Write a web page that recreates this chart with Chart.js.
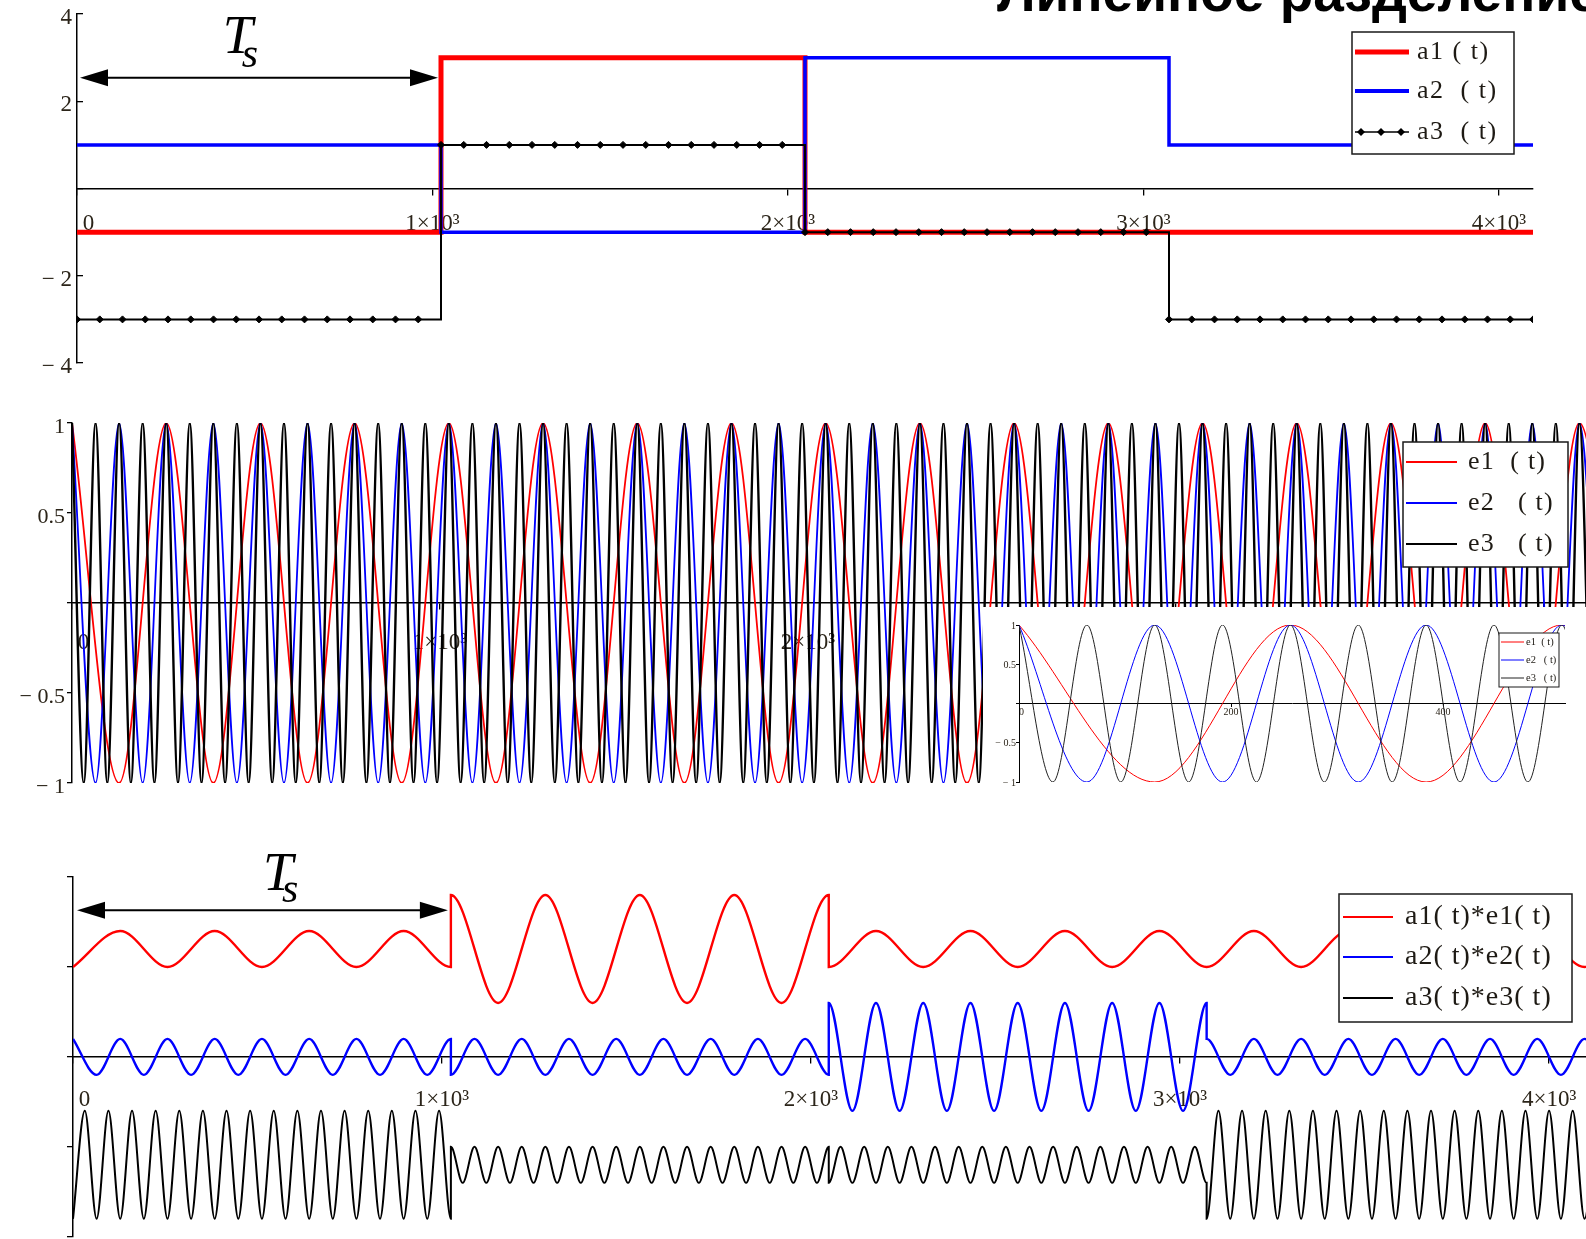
<!DOCTYPE html>
<html>
<head>
<meta charset="utf-8">
<script src="https://cdn.jsdelivr.net/npm/chart.js@4.4.1/dist/chart.umd.min.js"></script>
<style>
  html, body { margin: 0; padding: 0; background: #fff; }
  body { width: 1586px; height: 1239px; overflow: hidden; position: relative; }
  canvas { position: absolute; }
  #title { position: absolute; left: 997px; top: -35px; font: bold 55px 'Liberation Sans', Arial, sans-serif; line-height: 1; white-space: nowrap; color: #000; }
</style>
</head>
<body>
<div id="title">Линейное разделение</div>
<canvas id="levels" width="1586" height="411" style="left:0;top:-11px"></canvas>
<canvas id="carriers" width="1620" height="420" style="left:0;top:400px"></canvas>
<canvas id="zoomed" width="603" height="183" style="left:983px;top:607px"></canvas>
<canvas id="products" width="1620" height="420" style="left:0;top:830px"></canvas>
<script>
// symbol period boundaries (Ts = 1024)
const segStart = [0, 1024, 2048, 3072];
const tEnd = 4096;

// symbol amplitude of each channel in each period
const a1Levels = [-1, 3, -1, -1];
const a2Levels = [1, -1, 3, 1];
const a3Levels = [-3, 1, -1, -3];
const a3SampleStep = 64; // spacing of the diamond markers

// carrier peaks / troughs, one value each half period (256, 128, 64 periods)
const halfPeriods = [128, 64, 32];
const e1Extrema = [
  1, -1, 1, -1, 1, -1, 1, -1, 1, -1, 1, -1, 1, -1, 1, -1,
  1, -1, 1, -1, 1, -1, 1, -1, 1, -1, 1, -1, 1, -1, 1, -1,
  1, -1,
];
const e2Extrema = [
  1, -1, 1, -1, 1, -1, 1, -1, 1, -1, 1, -1, 1, -1, 1, -1,
  1, -1, 1, -1, 1, -1, 1, -1, 1, -1, 1, -1, 1, -1, 1, -1,
  1, -1, 1, -1, 1, -1, 1, -1, 1, -1, 1, -1, 1, -1, 1, -1,
  1, -1, 1, -1, 1, -1, 1, -1, 1, -1, 1, -1, 1, -1, 1, -1,
  1, -1,
];
const e3Extrema = [
  1, -1, 1, -1, 1, -1, 1, -1, 1, -1, 1, -1, 1, -1, 1, -1,
  1, -1, 1, -1, 1, -1, 1, -1, 1, -1, 1, -1, 1, -1, 1, -1,
  1, -1, 1, -1, 1, -1, 1, -1, 1, -1, 1, -1, 1, -1, 1, -1,
  1, -1, 1, -1, 1, -1, 1, -1, 1, -1, 1, -1, 1, -1, 1, -1,
  1, -1, 1, -1, 1, -1, 1, -1, 1, -1, 1, -1, 1, -1, 1, -1,
  1, -1, 1, -1, 1, -1, 1, -1, 1, -1, 1, -1, 1, -1, 1, -1,
  1, -1, 1, -1, 1, -1, 1, -1, 1, -1, 1, -1, 1, -1, 1, -1,
  1, -1, 1, -1, 1, -1, 1, -1, 1, -1, 1, -1, 1, -1, 1, -1,
  1, -1,
];

// vertical shifts of the three products on the bottom plot
const productOffsets = [6, 0, -6];

// legend names
const levelNames = ['a1 ( t)', 'a2  ( t)', 'a3  ( t)'];
const carrierNames = ['e1  ( t)', 'e2   ( t)', 'e3   ( t)'];
const productNames = ['a1( t)*e1( t)', 'a2( t)*e2( t)', 'a3( t)*e3( t)'];

// ticks (the zero label sits just right of the origin, as in Mathcad)
const timeTicks = [0, 1000, 2000, 3000, 4000];
const timeLabels = ['    0', '1×10³', '2×10³', '3×10³', '4×10³'];
const levelTicks = [4, 2, 0, -2, -4];
const levelLabels = ['4', '2', '', '− 2', '− 4'];
const unitTicks = [1, 0.5, 0, -0.5, -1];
const unitLabels = ['1', '0.5', '', '− 0.5', '− 1'];
const zoomTicks = [0, 200, 400];
const zoomLabels = ['  0', '200', '400'];
const productTicks = [10, 5, 0, -5, -10];
const productLabels = ['', '', '', '', ''];

const red = '#ff0000';
const blue = '#0000ff';
const black = '#000000';
const serif = 'Liberation Serif';
const tickColor = '#2b2419';

function levelAt(levels, t) {
  let k = 0;
  segStart.forEach((s, i) => { if (t >= s) k = i; });
  return levels[k];
}

function stepSeries(levels) {
  const pts = segStart.map((t, i) => ({ x: t, y: levels[i] }));
  pts.push({ x: tEnd, y: levels[levels.length - 1] });
  return pts;
}

function sampledSeries(levels, step) {
  const pts = [];
  for (let t = 0; t <= tEnd; t += step) pts.push({ x: t, y: levelAt(levels, t) });
  return pts;
}

function carrierSeries(extrema, half) {
  return extrema.map((v, i) => ({ x: i * half, y: v }));
}

function productSeries(extrema, half, levels, offset) {
  const pts = [];
  extrema.forEach((v, i) => {
    const t = i * half;
    const k = segStart.indexOf(t);
    if (k > 0) pts.push({ x: t, y: levels[k - 1] * v + offset });
    pts.push({ x: t, y: levelAt(levels, t) * v + offset });
  });
  return pts;
}

function axisX(min, max, ticks, labels, size, pad) {
  return {
    type: 'linear', min, max, position: { y: 0 },
    afterFit: (s) => { s.height = 0; },
    afterBuildTicks: (s) => { s.ticks = ticks.map((v) => ({ value: v })); },
    border: { display: true, color: '#000', width: size > 12 ? 1.5 : 1 },
    grid: { drawOnChartArea: false, drawTicks: true, color: '#000', lineWidth: size > 12 ? 1.3 : 1, tickLength: size > 12 ? 6 : 3 },
    ticks: {
      autoSkip: false, maxRotation: 0, minRotation: 0, padding: pad, color: tickColor,
      font: { family: serif, size }, callback: (v) => labels[ticks.indexOf(v)],
    },
  };
}

// left axis; its box spans from the canvas edge to the plot edge so labels are not clipped
function axisY(min, max, ticks, labels, size, shift, edge, tick, pad) {
  return {
    type: 'linear', min, max, position: 'left',
    afterFit: (s) => { s.width = edge; },
    afterBuildTicks: (s) => { s.ticks = ticks.map((v) => ({ value: v })); },
    border: { display: true, color: '#000', width: size > 12 ? 1.5 : 1 },
    grid: { drawOnChartArea: false, drawTicks: true, color: '#000', lineWidth: size > 12 ? 1.3 : 1, tickLength: tick },
    ticks: {
      autoSkip: false, padding: pad, labelOffset: shift, color: tickColor,
      font: { family: serif, size }, callback: (v) => labels[ticks.indexOf(v)],
    },
  };
}

// Mathcad style boxed legend
const boxLegend = {
  id: 'boxLegend',
  afterDraw(chart, args, o) {
    const { ctx } = chart;
    const [bx, by, bw, bh] = o.box;
    ctx.save();
    ctx.fillStyle = '#fff';
    ctx.fillRect(bx, by, bw, bh);
    ctx.strokeStyle = '#1a1a1a';
    ctx.lineWidth = o.border;
    ctx.strokeRect(bx, by, bw, bh);
    ctx.font = o.font;
    ctx.textBaseline = 'middle';
    if ('letterSpacing' in ctx) ctx.letterSpacing = o.spacing || '0px';
    chart.data.datasets.forEach((ds, i) => {
      const yy = o.rows[i];
      ctx.strokeStyle = ds.borderColor;
      ctx.lineWidth = o.widths[i];
      ctx.beginPath();
      ctx.moveTo(o.line[0], yy);
      ctx.lineTo(o.line[1], yy);
      ctx.stroke();
      if (ds.pointRadius > 0 && o.marks) {
        ctx.fillStyle = ds.borderColor;
        o.marks.forEach((mx) => {
          ctx.beginPath();
          ctx.moveTo(mx, yy - 4);
          ctx.lineTo(mx + 4, yy);
          ctx.lineTo(mx, yy + 4);
          ctx.lineTo(mx - 4, yy);
          ctx.closePath();
          ctx.fill();
        });
      }
      ctx.fillStyle = '#1e1a14';
      ctx.fillText(ds.label, o.textX, yy);
    });
    ctx.restore();
  },
};

// double arrow marking one symbol period with the Ts label
const tsArrow = {
  id: 'tsArrow',
  afterDatasetsDraw(chart, args, o) {
    if (!o || o.level === undefined) return;
    const { ctx } = chart;
    const sx = chart.scales.x;
    const sy = chart.scales.y;
    const x0 = sx.getPixelForValue(o.from) + o.inset[0];
    const x1 = sx.getPixelForValue(o.to) - o.inset[1];
    const yy = sy.getPixelForValue(o.level);
    ctx.save();
    ctx.fillStyle = '#000';
    ctx.strokeStyle = '#000';
    ctx.lineWidth = 2;
    ctx.beginPath();
    ctx.moveTo(x0 + 20, yy);
    ctx.lineTo(x1 - 20, yy);
    ctx.stroke();
    [[x0, 1], [x1, -1]].forEach(([tip, dir]) => {
      ctx.beginPath();
      ctx.moveTo(tip, yy);
      ctx.lineTo(tip + dir * 28, yy - 8.5);
      ctx.lineTo(tip + dir * 28, yy + 8.5);
      ctx.closePath();
      ctx.fill();
    });
    const tx = sx.getPixelForValue(o.labelAt);
    ctx.textBaseline = 'alphabetic';
    ctx.font = 'italic 54px ' + serif;
    ctx.fillText('T', tx, yy + o.capDy);
    ctx.font = 'italic 42px ' + serif;
    ctx.fillText('s', tx + 19, yy + o.subDy);
    ctx.restore();
  },
};

// white backdrop for the zoomed inset
const whiteBack = {
  id: 'whiteBack',
  beforeDraw(chart) {
    const { ctx } = chart;
    ctx.save();
    ctx.fillStyle = '#fff';
    ctx.fillRect(0, 0, chart.width, chart.height);
    ctx.restore();
  },
};

const common = {
  responsive: false,
  animation: false,
  events: [],
};

// ---- top: symbol amplitudes (canvas starts 11px above the page so the 4 label fits) ----
new Chart(document.getElementById('levels'), {
  type: 'line',
  data: {
    datasets: [
      { label: levelNames[0], data: stepSeries(a1Levels), borderColor: red, borderWidth: 5, stepped: 'before', pointRadius: 0, order: 3 },
      { label: levelNames[1], data: stepSeries(a2Levels), borderColor: blue, borderWidth: 3.5, stepped: 'before', pointRadius: 0, order: 2 },
      {
        label: levelNames[2], data: sampledSeries(a3Levels, a3SampleStep), borderColor: black, backgroundColor: black,
        borderWidth: 2, stepped: 'before', pointRadius: 3.5, pointStyle: 'rectRot', pointBorderWidth: 1,
        pointBackgroundColor: black, pointBorderColor: black, order: 1,
      },
    ],
  },
  options: {
    ...common,
    layout: { padding: { left: 0, top: 25, right: 53, bottom: 37 } },
    scales: {
      x: axisX(0, tEnd, timeTicks, timeLabels, 23, 16),
      y: axisY(-4, 4, levelTicks, levelLabels, 23, 4, 77, -6, 11),
    },
    plugins: {
      legend: { display: false },
      tooltip: { enabled: false },
      boxLegend: {
        box: [1352, 43, 162, 122], rows: [63, 102, 143], line: [1355, 1409], marks: [1361, 1381, 1401],
        textX: 1417, font: '26px ' + serif, spacing: '1.5px', widths: [5, 4, 1.6], border: 1.5,
      },
      tsArrow: { from: segStart[0], to: segStart[1], level: 2.54, inset: [3, 3], labelAt: 410, capDy: -25, subDy: -11 },
    },
  },
  plugins: [boxLegend, tsArrow],
});

// ---- middle: carriers (plot runs past the right page edge) ----
new Chart(document.getElementById('carriers'), {
  type: 'line',
  data: {
    datasets: [
      { label: carrierNames[0], data: carrierSeries(e1Extrema, halfPeriods[0]), borderColor: red, borderWidth: 1.8, cubicInterpolationMode: 'monotone', pointRadius: 0, order: 3 },
      { label: carrierNames[1], data: carrierSeries(e2Extrema, halfPeriods[1]), borderColor: blue, borderWidth: 1.8, cubicInterpolationMode: 'monotone', pointRadius: 0, order: 2 },
      { label: carrierNames[2], data: carrierSeries(e3Extrema, halfPeriods[2]), borderColor: black, borderWidth: 2.4, cubicInterpolationMode: 'monotone', pointRadius: 0, order: 1 },
    ],
  },
  options: {
    ...common,
    layout: { padding: { left: 0, top: 23, right: 34, bottom: 37 } },
    scales: {
      x: axisX(0, 4114, timeTicks, timeLabels, 23, 20),
      y: axisY(-1, 1, unitTicks, unitLabels, 22, 4, 72, 5, 2),
    },
    plugins: {
      legend: { display: false },
      tooltip: { enabled: false },
      boxLegend: {
        box: [1403, 42, 165, 125], rows: [62, 103, 144], line: [1406, 1457],
        textX: 1468, font: '26px ' + serif, spacing: '1.2px', widths: [1.8, 1.8, 1.8], border: 1.5,
      },
    },
  },
  plugins: [boxLegend],
});

// ---- inset: first two symbol periods of the carriers ----
new Chart(document.getElementById('zoomed'), {
  type: 'line',
  data: {
    datasets: [
      { label: carrierNames[0], data: carrierSeries(e1Extrema, halfPeriods[0]), borderColor: red, borderWidth: 1, cubicInterpolationMode: 'monotone', pointRadius: 0, order: 3 },
      { label: carrierNames[1], data: carrierSeries(e2Extrema, halfPeriods[1]), borderColor: blue, borderWidth: 1, cubicInterpolationMode: 'monotone', pointRadius: 0, order: 2 },
      { label: carrierNames[2], data: carrierSeries(e3Extrema, halfPeriods[2]), borderColor: '#222', borderWidth: 1, cubicInterpolationMode: 'monotone', pointRadius: 0, order: 1 },
    ],
  },
  options: {
    ...common,
    layout: { padding: { left: 0, top: 18, right: 21, bottom: 8 } },
    scales: {
      x: axisX(0, 515, zoomTicks, zoomLabels, 10, 0),
      y: axisY(-1, 1, unitTicks, unitLabels, 10, 1, 36, 3, 0),
    },
    plugins: {
      legend: { display: false },
      tooltip: { enabled: false },
      boxLegend: {
        box: [516, 26, 60, 54], rows: [35, 53, 71], line: [518, 541],
        textX: 543, font: '10.5px ' + serif, widths: [1, 1, 1], border: 1,
      },
    },
  },
  plugins: [whiteBack, boxLegend],
});

// ---- bottom: modulated products (plot runs past the right page edge) ----
new Chart(document.getElementById('products'), {
  type: 'line',
  data: {
    datasets: [
      { label: productNames[0], data: productSeries(e1Extrema, halfPeriods[0], a1Levels, productOffsets[0]), borderColor: red, borderWidth: 2.4, cubicInterpolationMode: 'monotone', pointRadius: 0 },
      { label: productNames[1], data: productSeries(e2Extrema, halfPeriods[1], a2Levels, productOffsets[1]), borderColor: blue, borderWidth: 2.4, cubicInterpolationMode: 'monotone', pointRadius: 0 },
      { label: productNames[2], data: productSeries(e3Extrema, halfPeriods[2], a3Levels, productOffsets[2]), borderColor: black, borderWidth: 2, cubicInterpolationMode: 'monotone', pointRadius: 0 },
    ],
  },
  options: {
    ...common,
    layout: { padding: { left: 0, top: 47, right: 34, bottom: 10 } },
    scales: {
      x: axisX(0, 4100, timeTicks, timeLabels, 23, 23),
      y: axisY(-10, 10, productTicks, productLabels, 22, 0, 73, 6, 0),
    },
    plugins: {
      legend: { display: false },
      tooltip: { enabled: false },
      boxLegend: {
        box: [1339, 64, 233, 128], rows: [87, 127, 168], line: [1343, 1393],
        textX: 1405, font: '28px ' + serif, spacing: '1px', widths: [2, 2, 2], border: 1.5,
      },
      tsArrow: { from: segStart[0], to: segStart[1], level: 8.15, inset: [4, 3], labelAt: 515, capDy: -20, subDy: -8 },
    },
  },
  plugins: [boxLegend, tsArrow],
});
</script>
</body>
</html>
